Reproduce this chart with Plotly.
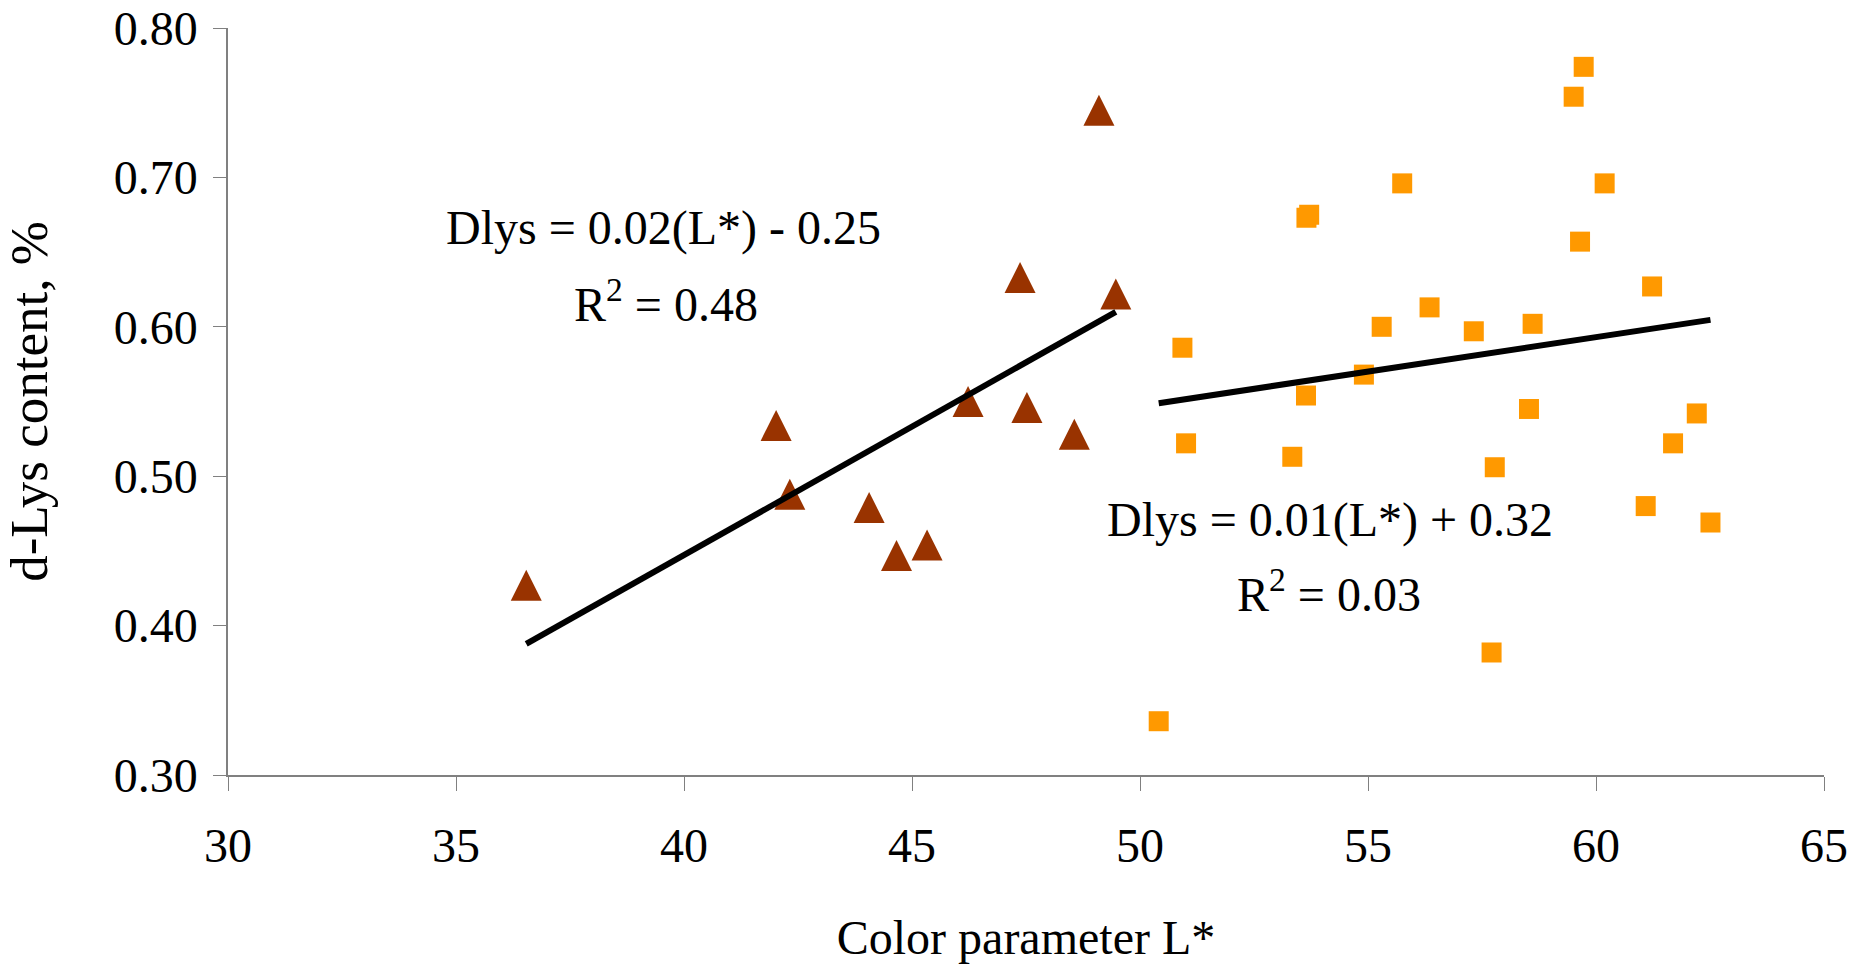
import numpy as np
import plotly.graph_objects as go

# ---- data ----
tri_x = [36.54, 42.02, 42.32, 44.06, 44.66, 45.33, 46.23, 47.37, 47.52, 48.56, 49.10, 49.47]
tri_y = [0.427, 0.534, 0.488, 0.479, 0.447, 0.454, 0.550, 0.633, 0.546, 0.528, 0.745, 0.622]

sq_x = [59.73, 59.51, 55.75, 60.19, 53.65, 53.71, 59.65, 61.23, 56.35, 55.30, 57.32, 58.61,
        50.93, 54.91, 53.64, 58.53, 62.21, 51.01, 61.69, 53.34, 57.78, 61.09, 62.51, 57.71, 50.41]
sq_y = [0.774, 0.754, 0.696, 0.696, 0.673, 0.675, 0.657, 0.627, 0.613, 0.600, 0.597, 0.602,
        0.586, 0.568, 0.554, 0.545, 0.542, 0.522, 0.522, 0.513, 0.506, 0.480, 0.469, 0.382, 0.336]

x_ticks = [30, 35, 40, 45, 50, 55, 60, 65]
y_ticks = [0.30, 0.40, 0.50, 0.60, 0.70, 0.80]

eq1 = ["Dlys = 0.02(L*) - 0.25", "R<sup>2</sup> = 0.48"]
eq2 = ["Dlys = 0.01(L*) + 0.32", "R<sup>2</sup> = 0.03"]

x_title = "Color parameter L*"
y_title = "d-Lys content, %"

# ---- styles ----
FONT = "Liberation Serif, Times New Roman, serif"
TRI_COLOR = "#993300"
SQ_COLOR = "#FF9900"
AXIS_COLOR = "#808080"


def trend(xs, ys):
    xs = np.asarray(xs, float)
    ys = np.asarray(ys, float)
    k, b = np.polyfit(xs, ys, 1)
    xx = np.array([xs.min(), xs.max()])
    return xx, k * xx + b


fig = go.Figure()

# equilateral-looking triangle centred on the point: arrow shape flipped and pulled back
fig.add_trace(go.Scatter(
    x=tri_x, y=tri_y, mode="markers",
    marker=dict(symbol="arrow-down", angle=180, size=31, standoff=15.5,
                color=TRI_COLOR, line=dict(width=0)),
    showlegend=False, hoverinfo="x+y"))

fig.add_trace(go.Scatter(
    x=sq_x, y=sq_y, mode="markers",
    marker=dict(symbol="square", size=20, color=SQ_COLOR, line=dict(width=0)),
    showlegend=False, hoverinfo="x+y"))

for xs, ys in ((tri_x, tri_y), (sq_x, sq_y)):
    tx, ty = trend(xs, ys)
    fig.add_trace(go.Scatter(
        x=tx, y=ty, mode="lines",
        line=dict(color="black", width=6),
        showlegend=False, hoverinfo="skip"))

ann_font = dict(family=FONT, size=48, color="black")
ann_pos = [
    (eq1[0], 0.2726, 0.6934),
    (eq1[1], 0.2745, 0.5921),
    (eq2[0], 0.6903, 0.3028),
    (eq2[1], 0.6898, 0.2032),
]
annotations = [
    dict(text=t, x=x, y=y, xref="paper", yref="paper", xanchor="center",
         yanchor="bottom", showarrow=False, font=ann_font)
    for t, x, y in ann_pos
]

fig.update_layout(
    width=1861, height=964,
    margin=dict(l=228, r=37, t=28, b=189, pad=0),
    paper_bgcolor="white", plot_bgcolor="white",
    font=dict(family=FONT, size=48, color="black"),
    showlegend=False,
    annotations=annotations,
    xaxis=dict(
        range=[30, 65], tickmode="array", tickvals=x_ticks,
        ticktext=[str(v) for v in x_ticks],
        ticks="outside", ticklen=14, tickwidth=1.3, tickcolor=AXIS_COLOR,
        showline=True, linecolor=AXIS_COLOR, linewidth=1.5,
        showgrid=False, zeroline=False,
        tickfont=dict(family=FONT, size=48, color="black"),
        ticklabelstandoff=14,
        title=dict(text=x_title, font=dict(family=FONT, size=48, color="black"),
                   standoff=69),
        automargin=False,
    ),
    yaxis=dict(
        range=[0.30, 0.80], tickmode="array", tickvals=y_ticks,
        ticktext=["%.2f" % v for v in y_ticks],
        ticks="outside", ticklen=13, tickwidth=1.3, tickcolor=AXIS_COLOR,
        showline=True, linecolor=AXIS_COLOR, linewidth=1.5,
        showgrid=False, zeroline=False,
        tickfont=dict(family=FONT, size=48, color="black"),
        ticklabelstandoff=6,
        title=dict(text=y_title, font=dict(family=FONT, size=53, color="black"),
                   standoff=57),
        automargin=False,
    ),
)

fig.write_html("out.html")
